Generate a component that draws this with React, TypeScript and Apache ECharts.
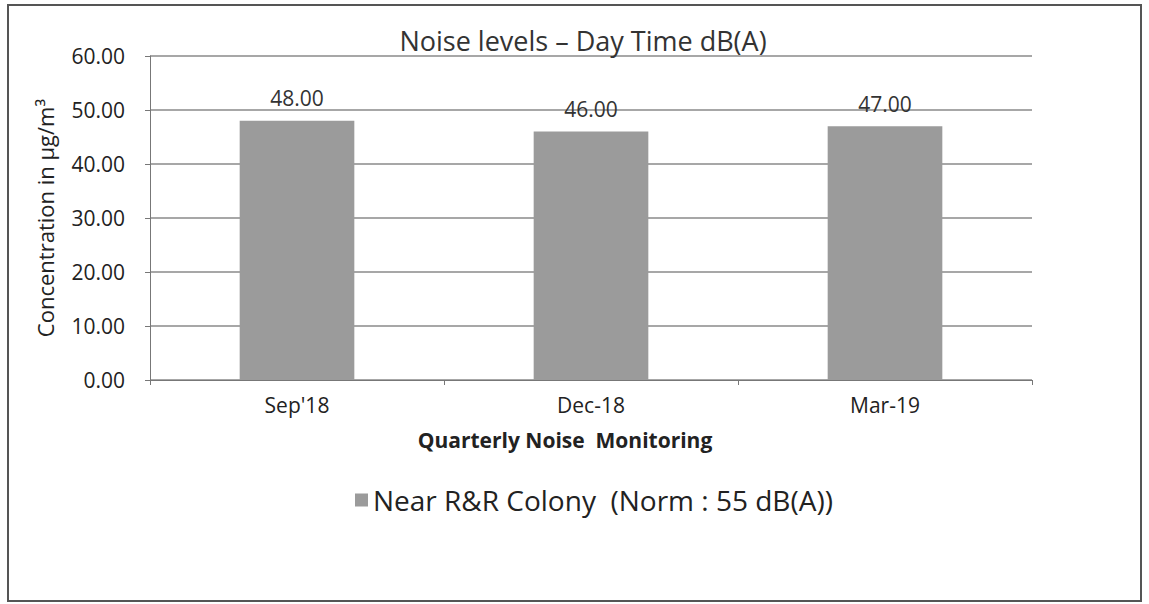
import React, { useEffect, useRef } from "react";
import * as echarts from "echarts";

const categories = ["Sep'18", "Dec-18", "Mar-19"];
const seriesName = "Near R&R Colony  (Norm : 55 dB(A))";
const values = [48.0, 46.0, 47.0];
const titleText = "Noise levels \u2013 Day Time dB(A)";
const xAxisName = "Quarterly Noise  Monitoring";
const yAxisName = "Concentration in \u00b5g/m\u00b3";

const FONT = "'Open Sans', sans-serif";

export default function App() {
  const ref = useRef<HTMLDivElement>(null);
  useEffect(() => {
    if (!ref.current) return;
    const chart = echarts.init(ref.current, undefined, { renderer: "svg" });
    chart.setOption({
      animation: false,
      backgroundColor: "#ffffff",
      textStyle: { fontFamily: FONT },
      title: {
        text: titleText,
        left: 578,
        top: 22,
        textAlign: "center",
        textStyle: { fontSize: 27, fontWeight: "normal", color: "#333", fontFamily: FONT },
      },
      graphic: [
        {
          type: "rect",
          shape: { x: 8, y: 5, width: 1133, height: 596 },
          style: { fill: "none", stroke: "#555", lineWidth: 2 },
          silent: true,
        },
      ],
      legend: {
        data: [seriesName],
        left: 350,
        top: 481,
        icon: "rect",
        itemWidth: 13,
        itemHeight: 13,
        itemGap: 10,
        textStyle: { fontSize: 28, color: "#222", fontFamily: FONT },
      },
      grid: { left: 150, right: 117, top: 56, bottom: 224, containLabel: false },
      xAxis: {
        type: "category",
        data: categories,
        name: xAxisName,
        nameLocation: "middle",
        nameGap: 49,
        nameTextStyle: {
          fontSize: 21,
          fontWeight: "bold",
          color: "#222",
          fontFamily: FONT,
          padding: [0, 52, 0, 0],
        },
        axisLine: { show: true, lineStyle: { color: "#777", width: 1 } },
        axisTick: { show: true, length: 5, lineStyle: { color: "#777" }, alignWithLabel: false },
        axisLabel: { fontSize: 21, color: "#222", margin: 14, fontFamily: FONT },
      },
      yAxis: {
        type: "value",
        min: 0,
        max: 60,
        interval: 10,
        name: yAxisName,
        nameLocation: "middle",
        nameGap: 94,
        nameTextStyle: { fontSize: 22, color: "#222", fontFamily: FONT },
        axisLine: { show: true, lineStyle: { color: "#777", width: 1 } },
        axisTick: { show: true, length: 5, lineStyle: { color: "#777" } },
        axisLabel: {
          fontSize: 21,
          color: "#222",
          margin: 25,
          fontFamily: FONT,
          formatter: (v: number) => v.toFixed(2),
        },
        splitLine: { show: true, lineStyle: { color: "#8a8a8a", width: 1.5 } },
      },
      series: [
        {
          name: seriesName,
          type: "bar",
          data: values,
          barWidth: "39%",
          itemStyle: { color: "#9b9b9b" },
          label: {
            show: true,
            position: "top",
            distance: 12,
            fontSize: 21,
            color: "#333",
            fontFamily: FONT,
            formatter: (p: any) => Number(p.value).toFixed(2),
          },
        },
      ],
    });
    return () => chart.dispose();
  }, []);
  return (
    <div
      ref={ref}
      style={{ position: "fixed", left: 0, top: 0, width: 1149, height: 604 }}
    />
  );
}
